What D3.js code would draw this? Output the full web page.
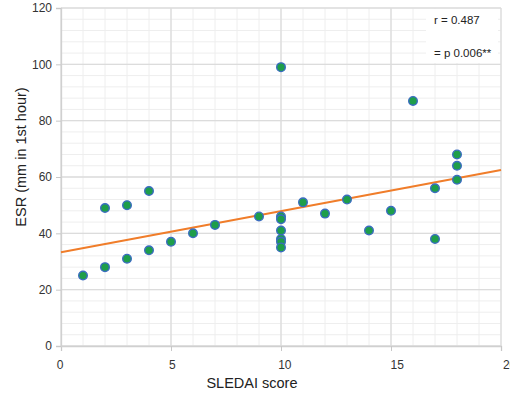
<!DOCTYPE html>
<html>
<head>
<meta charset="utf-8">
<script src="https://cdn.jsdelivr.net/npm/d3@7"></script>
<style>
  body { margin: 0; background: #fff; }
  svg { display: block; font-family: "Liberation Sans", Arial, sans-serif; }
</style>
</head>
<body>
<svg id="chart"></svg>
<script>
// SLEDAI score vs ESR
const sledai = [1, 2, 2, 3, 3, 4, 4, 5, 6, 7, 9, 10, 10, 10, 10, 10, 10, 10, 11, 12, 13, 14, 15, 16, 17, 17, 18, 18, 18];
const esr    = [25, 28, 49, 31, 50, 34, 55, 37, 40, 43, 46, 99, 46, 45, 41, 38, 37, 35, 51, 47, 52, 41, 48, 87, 56, 38, 68, 64, 59];
const fitX = [0, 20];
const fitY = [33.3, 62.5];
const xTicks = [0, 5, 10, 15, 20];
const yTicks = [0, 20, 40, 60, 80, 100, 120];
const statLines = ["r = 0.487", "= p 0.006**"];

const svgWidth = 510, svgHeight = 393;
const margin = { top: 8, right: 9, bottom: 47, left: 61 };
const width = svgWidth - margin.left - margin.right;
const height = svgHeight - margin.top - margin.bottom;

const svg = d3.select("#chart").attr("width", svgWidth).attr("height", svgHeight);
const g = svg.append("g").attr("transform", `translate(${margin.left},${margin.top})`);

const x = d3.scaleLinear().domain([0, 20]).range([0, width]);
const y = d3.scaleLinear().domain([0, 120]).range([height, 0]);

// minor grid
g.append("g").selectAll("line").data(d3.range(0, 21, 1)).join("line")
  .attr("x1", d => x(d)).attr("x2", d => x(d)).attr("y1", 0).attr("y2", height)
  .attr("stroke", "#eeeeee").attr("stroke-width", 1);
g.append("g").selectAll("line").data(d3.range(0, 121, 4)).join("line")
  .attr("x1", 0).attr("x2", width).attr("y1", d => y(d)).attr("y2", d => y(d))
  .attr("stroke", "#eeeeee").attr("stroke-width", 1);

// major grid
g.append("g").selectAll("line").data(xTicks).join("line")
  .attr("x1", d => x(d)).attr("x2", d => x(d)).attr("y1", 0).attr("y2", height)
  .attr("stroke", "#dcdcdc").attr("stroke-width", 1.3);
g.append("g").selectAll("line").data(yTicks).join("line")
  .attr("x1", 0).attr("x2", width).attr("y1", d => y(d)).attr("y2", d => y(d))
  .attr("stroke", "#dcdcdc").attr("stroke-width", 1.3);

// Axes
const xAxis = g.append("g").attr("transform", `translate(0,${height})`)
  .call(d3.axisBottom(x).tickValues(xTicks).tickSize(5).tickPadding(9));
const yAxis = g.append("g")
  .call(d3.axisLeft(y).tickValues(yTicks).tickSize(5).tickPadding(4));
[xAxis, yAxis].forEach(a => {
  a.select(".domain").attr("stroke", "#d0d0d0").attr("stroke-width", 1.3);
  a.selectAll(".tick line").attr("stroke", "#c8c8c8");
  a.selectAll(".tick text").attr("fill", "#333").attr("font-size", "12px")
    .attr("font-family", "'Liberation Sans', Arial, sans-serif");
});
// labels in the picture drift a little to the right along the axis
xAxis.selectAll(".tick text").attr("dx", (d, i) => i * 2.4 - 1.5);

// stats box
const box = g.append("g").attr("transform", `translate(${width - 75},1)`);
box.append("rect").attr("width", 72).attr("height", 54).attr("fill", "#fff");
box.selectAll("text").data(statLines).join("text")
  .attr("x", 8).attr("y", (d, i) => 15 + i * 33)
  .attr("font-size", "11.5px").attr("fill", "#222")
  .text(d => d);

// regression line
g.append("path")
  .datum(d3.zip(fitX, fitY))
  .attr("fill", "none")
  .attr("stroke", "#f07d2a")
  .attr("stroke-width", 2)
  .attr("d", d3.line().x(d => x(d[0])).y(d => y(d[1])));

// points
g.append("g").selectAll("circle").data(d3.zip(sledai, esr)).join("circle")
  .attr("cx", d => x(d[0])).attr("cy", d => y(d[1]))
  .attr("r", 4.3)
  .attr("fill", "#1e9e4a")
  .attr("stroke", "#3a6cc0")
  .attr("stroke-width", 1.4);

// Labels
svg.append("text")
  .attr("transform", "translate(26,157) rotate(-90)")
  .attr("text-anchor", "middle").attr("font-size", "14.5px").attr("fill", "#222")
  .text("ESR (mm in 1st hour)");
svg.append("text")
  .attr("x", 252).attr("y", 388)
  .attr("text-anchor", "middle").attr("font-size", "14.5px").attr("fill", "#222")
  .text("SLEDAI score");
</script>
</body>
</html>
